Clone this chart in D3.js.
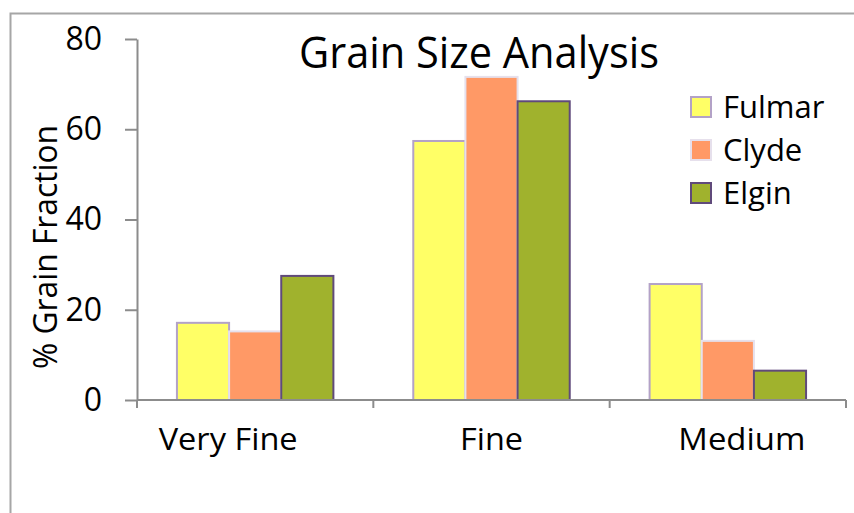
<!DOCTYPE html>
<html lang="en">
<head>
<meta charset="utf-8">
<script src="https://d3js.org/d3.v7.min.js"></script>
<style>
  body { margin: 0; background: #fff; }
  text { font-family: "Open Sans", "Noto Sans", sans-serif; fill: #000; }
</style>
</head>
<body>
<script>
// chart data
var categories = ["Very Fine", "Fine", "Medium"];
var seriesNames = ["Fulmar", "Clyde", "Elgin"];
var fulmar = [17.1, 57.4, 25.7];
var clyde = [15.2, 71.6, 13.1];
var elgin = [27.5, 66.2, 6.5];
var yTicks = [0, 20, 40, 60, 80];

var fills = ["#ffff66", "#ff9966", "#a0b22d"];
var strokes = ["#b3a2c7", "#e6e0ec", "#604a7b"];

var width = 854, height = 513;
var svg = d3.select("body").append("svg").attr("width", width).attr("height", height);

// outer chart border (runs off right/bottom)
svg.append("rect").attr("x", 10.5).attr("y", 13.5).attr("width", 900).attr("height", 600)
  .attr("fill", "none").attr("stroke", "#a6a6a6").attr("stroke-width", 2);

var plotL = 137, plotR = 846, plotT = 39, plotB = 400;

var x = d3.scaleBand().domain(categories).range([plotL, plotR]).paddingInner(0.338).paddingOuter(0.169);
var xs = d3.scaleBand().domain(seriesNames).range([0, x.bandwidth()]);
var y = d3.scaleLinear().domain([0, 80]).range([plotB, plotT]);

var series = [fulmar, clyde, elgin];
var rows = [];
categories.forEach(function(c, i) {
  seriesNames.forEach(function(s, j) {
    rows.push({cat: c, name: s, j: j, v: series[j][i]});
  });
});

// bars
svg.append("g").selectAll("rect").data(rows).join("rect")
  .attr("x", d => x(d.cat) + xs(d.name))
  .attr("y", d => y(d.v))
  .attr("width", xs.bandwidth())
  .attr("height", d => y(0) - y(d.v))
  .attr("fill", d => fills[d.j])
  .attr("stroke", d => strokes[d.j])
  .attr("stroke-width", 2);

// y axis
var yAxis = svg.append("g").attr("transform", "translate(" + plotL + ",0)")
  .call(d3.axisLeft(y).tickValues(yTicks).tickSize(12).tickPadding(23).tickSizeOuter(0));
yAxis.selectAll("line, path").attr("stroke", "#8c8c8c").attr("stroke-width", 2);
yAxis.selectAll("text").style("font-size", "32px").attr("fill", "#000");

// x axis with boundary ticks
var xAxis = svg.append("g").attr("transform", "translate(0," + plotB + ")");
xAxis.append("line").attr("x1", plotL).attr("x2", plotR).attr("y1", 0).attr("y2", 0)
  .attr("stroke", "#8c8c8c").attr("stroke-width", 2);
var bounds = d3.range(categories.length + 1).map(i => plotL + i * (plotR - plotL) / categories.length);
xAxis.selectAll(".bt").data(bounds).join("line")
  .attr("x1", d => d).attr("x2", d => d).attr("y1", 0).attr("y2", 8)
  .attr("stroke", "#8c8c8c").attr("stroke-width", 2);
// label nudges / widths as laid out in the source
var lblShift = [-27, 0, 14];
var lblLen = [139, 63, 127];
xAxis.selectAll(".lbl").data(categories).join("text")
  .attr("x", (d, i) => (bounds[i] + bounds[i + 1]) / 2 + lblShift[i])
  .attr("y", 50)
  .attr("text-anchor", "middle")
  .attr("textLength", (d, i) => lblLen[i])
  .attr("lengthAdjust", "spacingAndGlyphs")
  .style("font-size", "31px")
  .text(d => d);

// y axis title
svg.append("text")
  .attr("transform", "translate(57,247) rotate(-90)")
  .attr("text-anchor", "middle")
  .attr("textLength", 244)
  .attr("lengthAdjust", "spacingAndGlyphs")
  .style("font-size", "32px")
  .text("% Grain Fraction");

// title
svg.append("text").attr("x", 479).attr("y", 68).attr("text-anchor", "middle")
  .attr("textLength", 360)
  .attr("lengthAdjust", "spacingAndGlyphs")
  .style("font-size", "44px").text("Grain Size Analysis");

// legend
var legend = svg.append("g").selectAll("g").data(seriesNames).join("g")
  .attr("transform", (d, i) => "translate(691," + (97 + i * 43) + ")");
legend.append("rect").attr("width", 20).attr("height", 20)
  .attr("fill", (d, i) => fills[i]).attr("stroke", (d, i) => strokes[i]).attr("stroke-width", 2);
legend.append("text").attr("x", 32).attr("y", 21).style("font-size", "31px").text(d => d);
</script>
</body>
</html>
